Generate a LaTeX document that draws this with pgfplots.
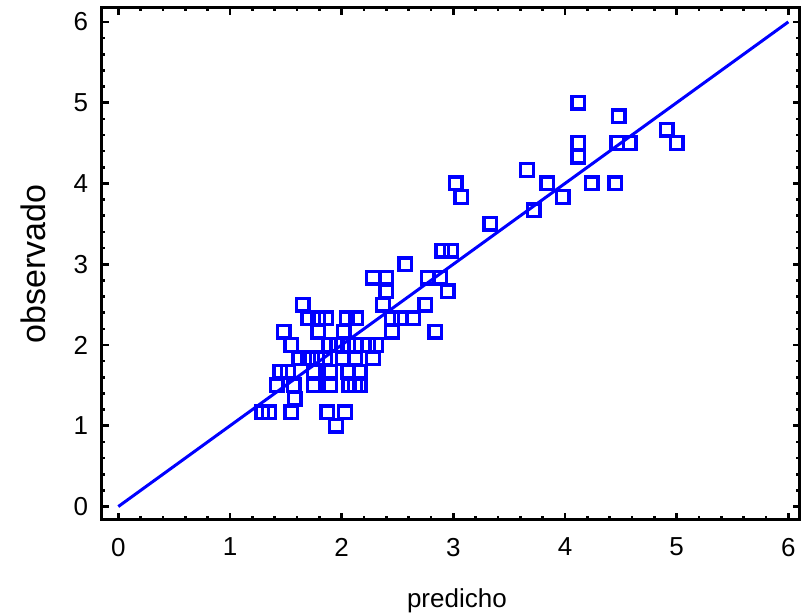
\documentclass[border=0pt]{standalone}
\usepackage{pgfplots}
\pgfplotsset{compat=1.18}
\usepackage{fontspec}
\setmainfont{Liberation Sans}
\definecolor{ptblue}{RGB}{0,0,255}
\begin{document}
\begin{tikzpicture}
\begin{axis}[
  at={(0,0)}, anchor=south west,
  scale only axis, width=698pt, height=512pt,
  xmin=-0.149, xmax=6.10, ymin=-0.165, ymax=6.172,
  xtick={0,1,2,3,4,5,6}, ytick={0,1,2,3,4,5,6},
  minor tick num=4,
  tick align=inside,
  major tick length=7pt, minor tick length=3.5pt,
  every tick/.style={black, line width=2.6pt},
  every minor tick/.style={black, line width=2.6pt},
  axis line style={black, line width=3pt},
  /pgf/number format/assume math mode=true,
  tick label style={font=\fontsize{26}{31}\selectfont, inner sep=0pt},
  yticklabel style={anchor=east, xshift=-13.5pt},
  xticklabel style={anchor=north, yshift=-18pt},
  xlabel={predicho}, ylabel={observado},
  xlabel style={font=\fontsize{26}{31}\selectfont, at={(axis description cs:0.509,-0.158)}, anchor=center, inner sep=0pt},
  ylabel style={font=\fontsize{34}{40}\selectfont, at={(axis description cs:-0.0984,0.5)}, anchor=center, inner sep=0pt},
  clip=false,
]
\addplot[ptblue, line width=3pt] coordinates {(0,0) (6,6)};
\addplot[only marks, mark=square, mark size=6.3pt, ptblue, mark options={line width=3.4pt, solid}] coordinates {
(4.12,5.0) (4.48,4.833) (4.91,4.667) (5.00,4.5) (4.47,4.5) (4.58,4.5) (4.12,4.5) (4.12,4.333)
(3.66,4.167) (3.84,4.0) (4.24,4.0) (4.45,4.0) (3.02,4.0) (3.07,3.833) (3.98,3.833) (3.72,3.667)
(3.33,3.5) (2.90,3.167) (2.98,3.167) (2.57,3.0)
(2.28,2.833) (2.40,2.833) (2.77,2.833) (2.88,2.833)
(2.40,2.667) (2.95,2.667)
(1.65,2.5) (2.37,2.5) (2.75,2.5)
(1.70,2.333) (1.79,2.333) (1.86,2.333) (2.045,2.333) (2.13,2.333) (2.45,2.333) (2.53,2.333) (2.64,2.333)
(1.48,2.167) (1.79,2.167) (2.02,2.167) (2.45,2.167) (2.84,2.167)
(1.55,2.0) (1.89,2.0) (1.96,2.0) (2.01,2.0) (2.06,2.0) (2.12,2.0) (2.24,2.0) (2.31,2.0)
(1.62,1.833) (1.70,1.833) (1.78,1.833) (1.85,1.833) (2.01,1.833) (2.12,1.833) (2.28,1.833)
(1.45,1.667) (1.52,1.667) (1.75,1.667) (1.90,1.667) (2.06,1.667) (2.16,1.667)
(1.42,1.5) (1.57,1.5) (1.75,1.5) (1.90,1.5) (2.07,1.5) (2.12,1.5) (2.16,1.5)
(1.58,1.333)
(1.29,1.167) (1.35,1.167) (1.55,1.167) (1.87,1.167) (2.03,1.167)
(1.95,1.0)
};
\end{axis}
\path[use as bounding box] (-101.7pt,-93pt) rectangle (699.3pt,520pt);
\end{tikzpicture}
\end{document}
